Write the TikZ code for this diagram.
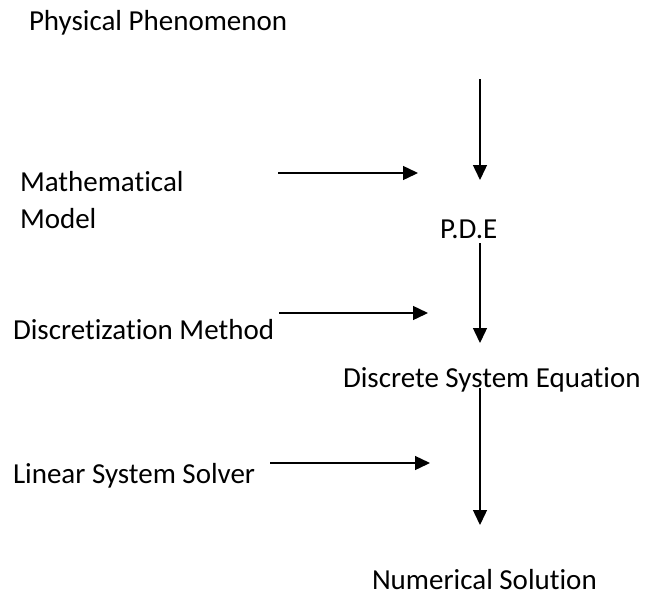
\documentclass[tikz,border=0pt]{standalone}
\usepackage{fontspec}
\setmainfont{Carlito}[Ligatures=NoCommon]
\usetikzlibrary{arrows.meta}
\begin{document}
\begin{tikzpicture}[x=1pt,y=-1pt,
  lbl/.style={inner sep=0pt,outer sep=0pt,anchor=base west,font=\fontsize{29}{37}\selectfont},
  flow/.style={line width=1.4pt,-{Triangle[length=15pt,width=14pt]}}]
\useasboundingbox (0,0) rectangle (645,595);
\node[lbl] (phys) at (29,30) {Physical Phenomenon};
\node[lbl,align=left] (math) at (20,228) {Mathematical\\Model};
\node[lbl] (pde) at (440,238) {P.D.E};
\node[lbl] (disc) at (13,339) {Discretization Method};
\node[lbl] (dse) at (343,387) {Discrete System Equation};
\node[lbl] (lin) at (13,483) {Linear System Solver};
\node[lbl] (num) at (372,589) {Numerical Solution};
\coordinate (v1a) at (480,79);  \coordinate (v1b) at (480,180);
\coordinate (h1a) at (278,173); \coordinate (h1b) at (418,173);
\coordinate (v2a) at (480,243); \coordinate (v2b) at (480,343);
\coordinate (h2a) at (279,313); \coordinate (h2b) at (428,313);
\coordinate (v3a) at (480,388); \coordinate (v3b) at (480,525);
\coordinate (h3a) at (270,463); \coordinate (h3b) at (430,463);
\draw[flow] (v1a) -- (v1b);
\draw[flow] (h1a) -- (h1b);
\draw[flow] (v2a) -- (v2b);
\draw[flow] (h2a) -- (h2b);
\draw[flow] (v3a) -- (v3b);
\draw[flow] (h3a) -- (h3b);
\end{tikzpicture}
\end{document}
